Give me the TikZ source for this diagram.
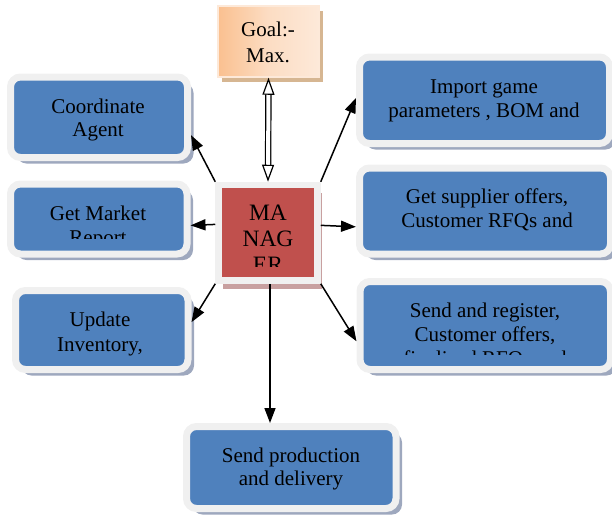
\documentclass[tikz,border=0pt]{standalone}
\usepackage{fontspec}
\setmainfont{Liberation Serif}
\usetikzlibrary{arrows.meta,shadows}
\definecolor{boxblue}{RGB}{79,129,189}
\definecolor{framegray}{RGB}{240,240,240}
\definecolor{bshadow}{RGB}{158,168,190}
\definecolor{mred}{RGB}{192,80,77}
\definecolor{mshadow}{RGB}{200,160,160}
\definecolor{peach}{RGB}{250,192,144}
\definecolor{peachlight}{RGB}{253,233,217}
\definecolor{gshadow}{RGB}{214,182,146}
\begin{document}
\begin{tikzpicture}[x=1pt,y=-1pt,
  bluebox/.style={rectangle, rounded corners=10pt, fill=boxblue, draw=framegray, line width=7pt, inner sep=0pt,
    drop shadow={shadow xshift=6pt, shadow yshift=-6pt, fill=bshadow, opacity=1}},
  mgrbox/.style={rectangle, fill=mred, draw=framegray, line width=6.5pt, inner sep=0pt,
    drop shadow={shadow xshift=4pt, shadow yshift=-8pt, fill=mshadow, opacity=1}},
  goalbox/.style={rectangle, left color=peach, right color=peachlight, middle color=peachlight!70!peach, draw=peachlight, line width=1.5pt, inner sep=0pt,
    drop shadow={shadow xshift=4pt, shadow yshift=-5pt, fill=gshadow, opacity=1}},
  txt/.style={anchor=base, inner sep=0pt, font=\fontsize{21}{24}\selectfont},
  mtxt/.style={anchor=base, inner sep=0pt, font=\fontsize{23.5}{26}\selectfont},
  arr/.style={line width=1.5pt, -{Triangle[length=15pt,width=11pt]}},
  dbl/.style={double=white, double distance=4pt, line width=1.2pt,
    {Triangle[open,length=17pt,width=12pt]}-{Triangle[open,length=17pt,width=12pt]}}
]
\useasboundingbox (0,0) rectangle (612,517);

% boxes
\node[goalbox, minimum width=101pt, minimum height=71pt] (goal) at (268.5,41.5) {};
\node[mgrbox, minimum width=99pt, minimum height=95.5pt] (mgr) at (268,232.75) {};
\node[bluebox, minimum width=177pt, minimum height=80.5pt] (ca) at (99,117.25) {};
\node[bluebox, minimum width=176.5pt, minimum height=70pt] (gm) at (98.75,219) {};
\node[bluebox, minimum width=172.5pt, minimum height=79pt] (up) at (101.75,330) {};
\node[bluebox, minimum width=250pt, minimum height=86.5pt] (imp) at (484.5,100.25) {};
\node[bluebox, minimum width=251pt, minimum height=86pt] (sup) at (485,211) {};
\node[bluebox, minimum width=250.5pt, minimum height=88pt] (sr) at (485.25,325.5) {};
\node[bluebox, minimum width=209.5pt, minimum height=82pt] (sp) at (291.25,467.5) {};

% connectors
\draw[dbl] (goal.south) -- (mgr.north);
\draw[arr] (mgr.north west) -- (ca.-11);
\draw[arr] (mgr.171) -- (gm.-4);
\draw[arr] (mgr.south west) -- (up.5);
\draw[arr] (mgr.north east) -- (imp.179);
\draw[arr] (mgr.8) -- (sup.187);
\draw[arr] (mgr.south east) -- (sr.187.5);
\draw[arr] ([xshift=2pt]mgr.south) -- ([xshift=2pt]mgr.south |- sp.north);

% texts
\node[txt] (goalA) at (268,36) {Goal:-};
\node[txt] (goalB) at (268,62) {Max.};

\node[mtxt] (mA) at (268,220) {MA};
\node[mtxt] (mB) at (268,246) {NAG};
\begin{scope}
  \clip (200,0) rectangle (340,266);
  \node[mtxt] (mC) at (268,272) {ER};
\end{scope}

\node[txt] (caA) at (98,113) {Coordinate};
\node[txt] (caB) at (98,136) {Agent};

\node[txt] (gmA) at (98,220) {Get Market};
\begin{scope}
  \clip (0,0) rectangle (200,238);
  \node[txt] (gmB) at (98,244) {Report};
\end{scope}

\node[txt] (upA) at (100,326) {Update};
\node[txt] (upB) at (100,351) {Inventory,};

\node[txt] (impA) at (484,93) {Import game};
\node[txt] (impB) at (484,117) {parameters , BOM and};

\node[txt] (supA) at (487,203) {Get supplier offers,};
\node[txt] (supB) at (487,227) {Customer RFQs and};

\node[txt] (srA) at (485,317) {Send and register,};
\node[txt] (srB) at (485,341) {Customer offers,};
\begin{scope}
  \clip (360,0) rectangle (612,354);
  \node[txt] (srC) at (485,365) {finalized RFQs and};
\end{scope}

\node[txt] (spA) at (291,462) {Send production};
\node[txt] (spB) at (291,485) {and delivery};
\end{tikzpicture}
\end{document}
